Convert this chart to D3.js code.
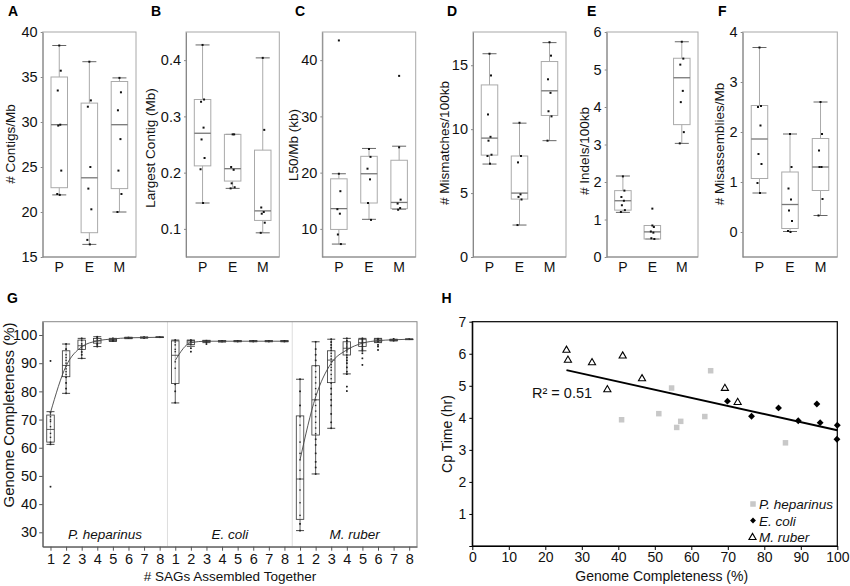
<!DOCTYPE html>
<html><head><meta charset="utf-8">
<script src="https://cdn.jsdelivr.net/npm/d3@7"></script>
<style>body{margin:0;background:#fff}</style>
</head><body><svg id="c" width="850" height="586"></svg>
<script>
// ---------------- DATA ----------------
const categories = ["P", "E", "M"];
// box stats: [lowWhisker, q1, median, q3, highWhisker]
const contigsBox = [[21.9, 22.7, 29.7, 35.0, 38.5], [16.4, 17.7, 23.8, 32.1, 36.7], [20.0, 22.6, 29.7, 34.5, 34.9]];
const contigsPts = [[38.5, 35.7, 33.5, 29.7, 29.6, 24.6, 22.0, 21.9], [36.7, 32.4, 31.7, 25.0, 22.6, 20.3, 16.9, 16.4], [34.9, 33.3, 31.3, 28.1, 24.6, 22.0, 20.0]];
const contigsOut = [[], [], []];

const largestBox = [[0.146, 0.212, 0.27, 0.330, 0.427], [0.172, 0.185, 0.207, 0.268, 0.268], [0.093, 0.115, 0.132, 0.240, 0.404]];
const largestPts = [[0.427, 0.33, 0.326, 0.28, 0.259, 0.226, 0.206, 0.146], [0.268, 0.268, 0.21, 0.205, 0.181, 0.174, 0.172], [0.404, 0.276, 0.138, 0.13, 0.127, 0.111, 0.093]];
const largestOut = [[], [], []];

const l50Box = [[7.3, 9.9, 13.6, 18.9, 19.8], [11.7, 14.6, 19.8, 22.9, 24.3], [13.5, 13.6, 14.7, 22.2, 24.7]];
const l50Pts = [[19.8, 16.7, 13.5, 12.7, 9.0, 7.3], [24.2, 22.8, 20.7, 18.8, 14.6, 11.6], [24.5, 15.2, 14.5, 13.7, 13.4]];
const l50Out = [[43.5], [], [37.2]];

const mismatchBox = [[7.27, 7.97, 9.3, 13.46, 15.9], [2.5, 4.53, 5.0, 7.9, 10.47], [9.1, 11.07, 13.0, 15.29, 16.77]];
const mismatchPts = [[15.9, 14.2, 11.15, 9.4, 9.1, 8.0, 7.9, 7.3], [10.5, 7.9, 7.4, 4.9, 4.7, 4.5, 2.5], [16.8, 15.75, 13.9, 12.84, 11.4, 11.0, 9.1]];
const mismatchOut = [[], [], []];

const indelBox = [[1.19, 1.25, 1.5, 1.77, 2.16], [0.48, 0.48, 0.67, 0.84, 0.84], [3.03, 3.53, 4.78, 5.3, 5.74]];
const indelPts = [[2.15, 1.77, 1.6, 1.5, 1.38, 1.25, 1.2], [0.84, 0.8, 0.68, 0.65, 0.5, 0.48], [5.74, 5.29, 5.13, 4.43, 4.13, 3.33, 3.03]];
const indelOut = [[], [1.29], []];

const misasmBox = [[0.78, 1.07, 1.86, 2.53, 3.69], [0.01, 0.07, 0.55, 1.2, 1.96], [0.33, 0.83, 1.3, 1.87, 2.6]];
const misasmPts = [[3.69, 2.52, 2.5, 2.13, 1.56, 1.36, 0.98, 0.78], [1.96, 1.3, 0.87, 0.65, 0.43, 0.22, 0.02, 0.0], [2.6, 1.96, 1.63, 1.3, 1.3, 0.66, 0.33]];
const misasmOut = [[], [], []];

// Panel G
const species = ["P. heparinus", "E. coli", "M. ruber"];
const sagCounts = [1, 2, 3, 4, 5, 6, 7, 8];
const gBox = [
  // P. heparinus
  [61.2, 62.0, 66.5, 71.6, 72.8], [79.3, 85.2, 89.2, 94.4, 96.8], [91.7, 94.9, 96.2, 98.2, 98.8], [95.9, 97.1, 97.9, 98.8, 99.4],
  [97.7, 98.0, 98.3, 98.5, 98.8], [98.7, 98.8, 98.95, 99.1, 99.2], [98.9, 99.0, 99.1, 99.2, 99.3], [99.2, 99.2, 99.2, 99.25, 99.3],
  // E. coli
  [75.9, 82.8, 92.8, 97.9, 98.2], [96.0, 96.6, 97.5, 98.0, 98.2], [97.3, 97.6, 97.8, 97.95, 98.1], [97.5, 97.7, 97.8, 97.9, 98.0],
  [97.6, 97.7, 97.8, 97.9, 98.0], [97.6, 97.7, 97.8, 97.9, 98.0], [97.6, 97.7, 97.8, 97.9, 98.0], [97.6, 97.7, 97.8, 97.9, 98.0],
  // M. ruber
  [30.6, 34.6, 48.9, 71.3, 84.3], [50.7, 64.5, 77.0, 89.1, 97.6], [66.9, 83.1, 91.1, 94.4, 98.5], [86.2, 92.9, 95.3, 97.6, 98.8],
  [94.4, 95.9, 97.3, 98.5, 98.8], [97.3, 97.6, 98.2, 98.6, 98.8], [97.9, 98.0, 98.2, 98.4, 98.5], [98.4, 98.5, 98.5, 98.5, 98.6]
];
const gPts = [
  [90.8, 72.5, 71.0, 69.9, 69.3, 67.5, 65.1, 63.7, 62.0, 61.2, 46.2],
  [96.8, 95, 93, 92, 91, 90, 89, 88, 87, 86, 85, 83, 81, 79.3],
  [98.8, 98, 97, 96.5, 96, 95.5, 95, 94, 93, 91.7],
  [99.4, 99, 98.5, 98, 97.5, 97, 96.5, 95.9],
  [98.8, 98.5, 98.3, 98.1, 97.8],
  [99.1, 99.0, 98.9],
  [99.2, 99.1, 99.0],
  [99.2],
  [98.2, 97.5, 96.5, 94.9, 94.1, 90.5, 88.2, 82.5, 80, 76],
  [98.2, 97.9, 97.6, 97.3, 96.8, 95.3, 94.1],
  [98, 97.8, 97.5, 96.8],
  [97.9, 97.8, 97.7],
  [97.9, 97.8, 97.7],
  [97.9, 97.8, 97.7],
  [97.9, 97.8, 97.7],
  [97.9, 97.8, 97.7],
  [84.3, 80, 75, 71, 68, 62, 58, 55.7, 52, 48.9, 45, 40.5, 36, 33, 30.6],
  [97.6, 95, 93, 91, 89, 87, 85, 83, 81, 79, 77, 75, 73, 71, 69, 67, 65, 63, 61, 58, 55, 53, 50.7],
  [98.5, 97.5, 96.5, 95.5, 94.5, 93.5, 92.5, 91.5, 90.5, 89.5, 88.5, 87.5, 86, 84.5, 83, 81, 79, 77, 75, 72, 69, 66.9],
  [98.8, 98, 97.5, 97, 96.5, 96, 95.5, 95, 94.5, 94, 93, 92, 91, 90, 88.5, 87, 86.1, 81.7, 80.1],
  [98.8, 98.5, 98.2, 97.9, 97.6, 97.3, 97, 96.6, 96.2, 95.8, 95, 94.4, 93.5, 91.7, 89.4],
  [98.7, 98.5, 98.3, 98.1, 97.9, 97.6, 96.5, 95.9, 94.7],
  [98.6, 98.4, 98.2, 98.0],
  [98.5]
];
const gFitP = [72.5, 89, 95.8, 97.9, 98.6, 99.0, 99.1, 99.2];
const gFitE = [91, 97.3, 97.8, 97.8, 97.8, 97.8, 97.8, 97.8];
const gFitM = [55.7, 78, 90, 94.7, 97.1, 98.0, 98.3, 98.5];
const gYTicks = [30, 40, 50, 60, 70, 80, 90, 100];

// Panel H
const hPhepX = [40.9, 51.1, 54.6, 56.0, 57.1, 63.7, 65.3, 85.8];
const hPhepY = [3.94, 4.13, 4.93, 3.70, 3.89, 4.04, 5.47, 3.22];
const hEcoliX = [69.9, 76.5, 83.9, 89.3, 94.4, 95.3, 100, 99.9];
const hEcoliY = [4.52, 4.05, 4.31, 3.91, 4.43, 3.85, 3.77, 3.33];
const hMrubX = [25.8, 26.2, 32.8, 41.2, 37.0, 46.5, 69.2, 72.7];
const hMrubY = [6.11, 5.80, 5.72, 5.93, 4.88, 5.22, 4.92, 4.48];
const hXTicks = [0, 10, 20, 30, 40, 50, 60, 70, 80, 90, 100];
const hYTicks = [1, 2, 3, 4, 5, 6, 7];
const r2Label = "R² = 0.51";

// ---------------- DRAWING ----------------
const FONT = "'Liberation Sans', Arial, Helvetica, sans-serif";
const svg = d3.select("#c").attr("font-family", FONT);
const jit = [0, 1.5, -1.5, 1, -1, 2, -2, 0.5];

function panelLabel(t, x, y) {
  svg.append("text").attr("x", x).attr("y", y).attr("font-weight", "bold").attr("font-size", 14).text(t);
}

const TOP = 32, BOT = 257;
function topPanel(cfg) {
  const y = d3.scaleLinear().domain(cfg.domain).range([BOT, TOP]);
  const x = d3.scalePoint().domain(categories).range([cfg.x0, cfg.x1]).padding(0.55);
  const g = svg.append("g");
  g.append("rect").attr("x", cfg.x0).attr("y", TOP).attr("width", cfg.x1 - cfg.x0).attr("height", BOT - TOP)
    .attr("fill", "none").attr("stroke", "#a8a8a8");
  const ax = g.append("g").attr("transform", `translate(${cfg.x0},0)`)
    .call(d3.axisLeft(y).tickValues(cfg.ticks).tickSize(2).tickSizeOuter(0).tickPadding(3).tickFormat(cfg.fmt));
  ax.attr("font-family", FONT).attr("font-size", 14.5);
  ax.select(".domain").attr("stroke", "#888");
  ax.selectAll(".tick line").attr("stroke", "#888");
  ax.selectAll(".tick text").attr("fill", "#111");
  g.append("line").attr("x1", cfg.x0).attr("x2", cfg.x1).attr("y1", BOT).attr("y2", BOT).attr("stroke", "#888");
  categories.forEach((c, i) => {
    const cx = x(c);
    g.append("text").attr("x", cx).attr("y", 272).attr("text-anchor", "middle").attr("font-size", 14).attr("fill", "#111").text(c);
    const b = cfg.box[i];
    const bw = 16.5;
    g.append("line").attr("x1", cx).attr("x2", cx).attr("y1", y(b[0])).attr("y2", y(b[1])).attr("stroke", "#aaa");
    g.append("line").attr("x1", cx).attr("x2", cx).attr("y1", y(b[3])).attr("y2", y(b[4])).attr("stroke", "#aaa");
    [b[0], b[4]].forEach(v => g.append("line").attr("x1", cx - 7).attr("x2", cx + 7).attr("y1", y(v)).attr("y2", y(v)).attr("stroke", "#666"));
    g.append("rect").attr("x", cx - bw / 2).attr("y", y(b[3])).attr("width", bw).attr("height", y(b[1]) - y(b[3]))
      .attr("fill", "none").attr("stroke", "#aaa");
    g.append("line").attr("x1", cx - bw / 2).attr("x2", cx + bw / 2).attr("y1", y(b[2])).attr("y2", y(b[2])).attr("stroke", "#777").attr("stroke-width", 1.3);
    cfg.pts[i].forEach((v, j) => g.append("rect").attr("x", cx + jit[j % jit.length] - 1).attr("y", y(v) - 1).attr("width", 2).attr("height", 2).attr("fill", "#111"));
    cfg.out[i].forEach(v => g.append("rect").attr("x", cx - 1).attr("y", y(v) - 1).attr("width", 2).attr("height", 2).attr("fill", "#111"));
  });
  g.append("text").attr("transform", `translate(${cfg.tx},${cfg.ty}) rotate(-90)`).attr("text-anchor", "middle")
    .attr("font-size", 13.5).attr("fill", "#111").text(cfg.title);
  panelLabel(cfg.label, cfg.lx, 16);
}

const f0 = d3.format("d"), f1 = d3.format(".1f");
topPanel({label: "A", lx: 8, title: "# Contigs/Mb", tx: 14.5, ty: 144, x0: 42.7, x1: 136, domain: [15, 40], ticks: [15, 20, 25, 30, 35, 40], fmt: f0, box: contigsBox, pts: contigsPts, out: contigsOut});
topPanel({label: "B", lx: 151, title: "Largest Contig (Mb)", tx: 154.5, ty: 148, x0: 186, x1: 279.3, domain: [0.05, 0.45], ticks: [0.1, 0.2, 0.3, 0.4], fmt: f1, box: largestBox, pts: largestPts, out: largestOut});
topPanel({label: "C", lx: 295, title: "L50/Mb (kb)", tx: 298, ty: 145, x0: 322.3, x1: 415.7, domain: [5, 45], ticks: [10, 20, 30, 40], fmt: f0, box: l50Box, pts: l50Pts, out: l50Out});
topPanel({label: "D", lx: 447, title: "# Mismatches/100kb", tx: 449, ty: 143, x0: 473, x1: 566, domain: [0, 17.6], ticks: [0, 5, 10, 15], fmt: f0, box: mismatchBox, pts: mismatchPts, out: mismatchOut});
topPanel({label: "E", lx: 587, title: "# Indels/100kb", tx: 589, ty: 151, x0: 606.7, x1: 698, domain: [0, 6], ticks: [0, 1, 2, 3, 4, 5, 6], fmt: f0, box: indelBox, pts: indelPts, out: indelOut});
topPanel({label: "F", lx: 718, title: "# Misassemblies/Mb", tx: 724, ty: 144, x0: 742.7, x1: 837.3, domain: [-0.5, 4], ticks: [0, 1, 2, 3, 4], fmt: f0, box: misasmBox, pts: misasmPts, out: misasmOut});

// ---------- Panel G ----------
(function () {
  const L = 42.7, R = 417, T = 321.7, B = 546.7;
  const idx = d3.range(24);
  const x = d3.scaleLinear().domain([-0.5, 23.5]).range([L, R]);
  const y = d3.scaleLinear().domain([24.89, 104.72]).range([B, T]);
  const g = svg.append("g");
  [7.5, 15.5].forEach(v => g.append("line").attr("x1", x(v)).attr("x2", x(v)).attr("y1", T).attr("y2", B).attr("stroke", "#ddd"));
  g.append("rect").attr("x", L).attr("y", T).attr("width", R - L).attr("height", B - T).attr("fill", "none").attr("stroke", "#888");
  const ay = g.append("g").attr("transform", `translate(${L},0)`)
    .call(d3.axisLeft(y).tickValues(gYTicks).tickSize(3.5).tickSizeOuter(0).tickPadding(2).tickFormat(f0));
  ay.attr("font-family", FONT).attr("font-size", 14.5);
  ay.select(".domain").attr("stroke", "#555");
  ay.selectAll(".tick line").attr("stroke", "#555");
  ay.selectAll(".tick text").attr("fill", "#111");
  const ax = g.append("g").attr("transform", `translate(0,${B})`)
    .call(d3.axisBottom(x).tickValues(idx).tickSize(4).tickSizeOuter(0).tickPadding(3).tickFormat(i => sagCounts[i % 8]));
  ax.attr("font-family", FONT).attr("font-size", 14.5);
  ax.select(".domain").attr("stroke", "#555");
  ax.selectAll(".tick line").attr("stroke", "#555");
  ax.selectAll(".tick text").attr("fill", "#111");

  idx.forEach(i => {
    const cx = x(i);
    gPts[i].forEach(v => g.append("rect").attr("x", cx - 0.8).attr("y", y(v) - 0.8).attr("width", 1.6).attr("height", 1.6).attr("fill", "#222"));
  });
  idx.forEach(i => {
    const cx = x(i), b = gBox[i], bw = 7.5;
    const st = "#333";
    g.append("line").attr("x1", cx).attr("x2", cx).attr("y1", y(b[0])).attr("y2", y(b[4])).attr("stroke", st).attr("stroke-width", 0.8);
    [b[0], b[4]].forEach(v => g.append("line").attr("x1", cx - 4).attr("x2", cx + 4).attr("y1", y(v)).attr("y2", y(v)).attr("stroke", st).attr("stroke-width", 0.9));
    g.append("rect").attr("x", cx - bw / 2).attr("y", y(b[3])).attr("width", bw).attr("height", Math.max(0.5, y(b[1]) - y(b[3])))
      .attr("fill", "#fff").attr("fill-opacity", 0.55).attr("stroke", st).attr("stroke-width", 0.8);
    g.append("line").attr("x1", cx - bw / 2).attr("x2", cx + bw / 2).attr("y1", y(b[2])).attr("y2", y(b[2])).attr("stroke", st).attr("stroke-width", 0.8);
  });
  idx.forEach(i => {
    const cx = x(i);
    gPts[i].forEach(v => g.append("rect").attr("x", cx - 0.6).attr("y", y(v) - 0.6).attr("width", 1.2).attr("height", 1.2).attr("fill", "#222"));
  });
  const line = d3.line().x(d => x(d[0])).y(d => y(d[1])).curve(d3.curveMonotoneX);
  [gFitP, gFitE, gFitM].forEach((fit, k) => {
    g.append("path").attr("d", line(fit.map((v, j) => [k * 8 + j, v]))).attr("fill", "none").attr("stroke", "#444").attr("stroke-width", 0.9);
  });
  species.forEach((s, k) => {
    g.append("text").attr("x", x(k * 8 + 3.5)).attr("y", 539).attr("text-anchor", "middle").attr("font-style", "italic")
      .attr("font-size", 13.5).attr("fill", "#111").text(s);
  });
  g.append("text").attr("x", 230).attr("y", 581).attr("text-anchor", "middle").attr("font-size", 13.5).attr("fill", "#111").text("# SAGs Assembled Together");
  g.append("text").attr("transform", `translate(14,415) rotate(-90)`).attr("text-anchor", "middle").attr("font-size", 15).attr("fill", "#111").text("Genome Completeness (%)");
  panelLabel("G", 7, 303);
})();

// ---------- Panel H ----------
(function () {
  const L = 472.3, R = 837.3, T = 321.7, B = 546;
  const x = d3.scaleLinear().domain([0, 100]).range([L, R]);
  const y = d3.scaleLinear().domain([0, 7]).range([B, T]);
  const g = svg.append("g");
  const ax = g.append("g").attr("transform", `translate(0,${B})`)
    .call(d3.axisBottom(x).tickValues(hXTicks).tickSize(4).tickSizeOuter(0).tickPadding(2).tickFormat(f0));
  ax.attr("font-family", FONT).attr("font-size", 14);
  ax.selectAll(".tick text").attr("fill", "#111");
  const ay = g.append("g").attr("transform", `translate(${L},0)`)
    .call(d3.axisLeft(y).tickValues([0].concat(hYTicks)).tickSize(3).tickSizeOuter(0).tickPadding(3).tickFormat(v => v === 0 ? "" : f0(v)));
  ay.attr("font-family", FONT).attr("font-size", 14);
  ay.selectAll(".tick text").attr("fill", "#111");
  g.append("rect").attr("x", L).attr("y", T).attr("width", R - L).attr("height", B - T).attr("fill", "none").attr("stroke", "#000").attr("stroke-width", 1.2);

  const allX = hPhepX.concat(hEcoliX, hMrubX), allY = hPhepY.concat(hEcoliY, hMrubY);
  const mx = d3.mean(allX), my = d3.mean(allY);
  const sxy = d3.sum(allX, (v, i) => (v - mx) * (allY[i] - my)), sxx = d3.sum(allX, v => (v - mx) * (v - mx));
  const slope = sxy / sxx, icp = my - slope * mx;
  const ext = d3.extent(allX);
  g.append("line").attr("x1", x(ext[0])).attr("x2", x(ext[1])).attr("y1", y(icp + slope * ext[0])).attr("y2", y(icp + slope * ext[1]))
    .attr("stroke", "#000").attr("stroke-width", 2);

  const sq = 5.5;
  hPhepX.forEach((v, i) => g.append("rect").attr("x", x(v) - sq / 2).attr("y", y(hPhepY[i]) - sq / 2).attr("width", sq).attr("height", sq).attr("fill", "#c8c8c8"));
  const diamond = d3.symbol().type(d3.symbolDiamond2).size(30);
  hEcoliX.forEach((v, i) => g.append("path").attr("d", diamond()).attr("transform", `translate(${x(v)},${y(hEcoliY[i])})`).attr("fill", "#000"));
  const tri = d3.symbol().type(d3.symbolTriangle).size(22);
  hMrubX.forEach((v, i) => g.append("path").attr("d", tri()).attr("transform", `translate(${x(v)},${y(hMrubY[i])})`).attr("fill", "#fff").attr("stroke", "#000").attr("stroke-width", 1.1));

  g.append("text").attr("x", 532).attr("y", 398).attr("font-size", 14.5).attr("fill", "#111").text(r2Label);

  const lx = 753;
  g.append("rect").attr("x", lx - sq / 2).attr("y", 504 - sq / 2).attr("width", sq).attr("height", sq).attr("fill", "#c8c8c8");
  g.append("path").attr("d", d3.symbol().type(d3.symbolDiamond2).size(22)()).attr("transform", `translate(${lx},520.5)`).attr("fill", "#000");
  g.append("path").attr("d", tri()).attr("transform", `translate(${lx - 0.5},537.5)`).attr("fill", "#fff").attr("stroke", "#000").attr("stroke-width", 1.1);
  species.forEach((s, k) => g.append("text").attr("x", 759).attr("y", [509, 525.7, 542.3][k]).attr("font-style", "italic").attr("font-size", 13.5).attr("fill", "#111").text(s));

  g.append("text").attr("x", 661.7).attr("y", 581).attr("text-anchor", "middle").attr("font-size", 14).attr("fill", "#111").text("Genome Completeness (%)");
  g.append("text").attr("transform", `translate(452,434) rotate(-90)`).attr("text-anchor", "middle").attr("font-size", 14).attr("fill", "#111").text("Cp Time (hr)");
  panelLabel("H", 441.5, 303.3);
})();
</script></body></html>
